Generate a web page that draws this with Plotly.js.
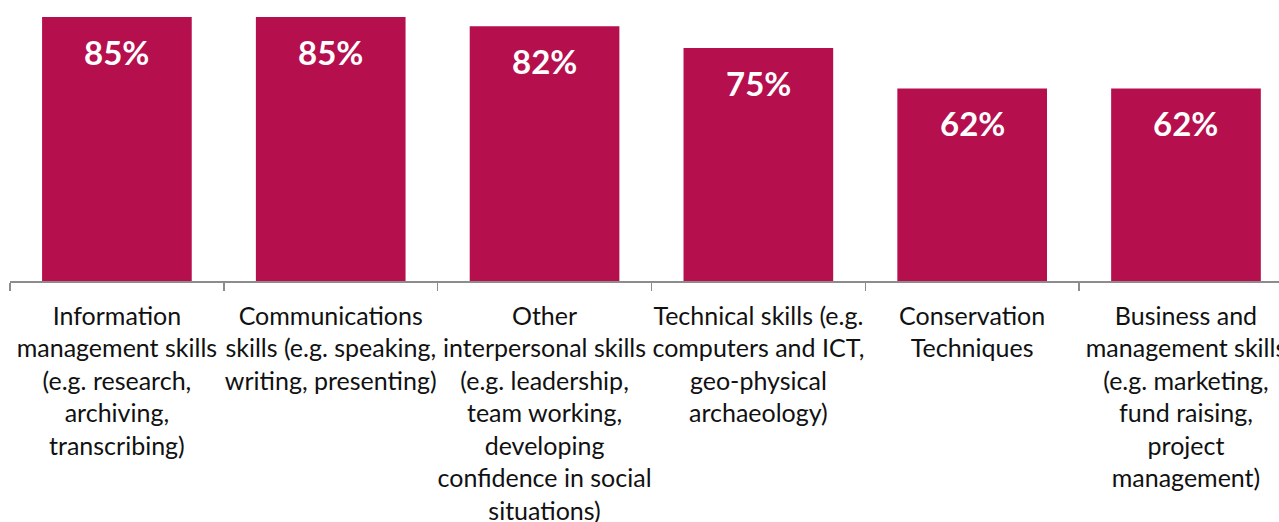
<!DOCTYPE html>
<html>
<head>
<meta charset="utf-8">
<script src="https://cdn.plot.ly/plotly-3.0.1.min.js"></script>
<style>html,body{margin:0;padding:0;background:#fff;}#chart{width:1279px;height:522px;}</style>
</head>
<body>
<div id="chart"></div>
<script>
const categories = [
  "Information<br>management skills<br>(e.g. research,<br>archiving,<br>transcribing)",
  "Communications<br>skills (e.g. speaking,<br>writing, presenting)",
  "Other<br>interpersonal skills<br>(e.g. leadership,<br>team working,<br>developing<br>confidence in social<br>situations)",
  "Technical skills (e.g.<br>computers and ICT,<br>geo-physical<br>archaeology)",
  "Conservation<br>Techniques",
  "Business and<br>management skills<br>(e.g. marketing,<br>fund raising,<br>project<br>management)"
];
const values = [85, 85, 82, 75, 62, 62];
const valueLabels = values.map(v => v + "%");

const barColor = "#B50F4D";
const axisColor = "#8C8C8C";
const fontFamily = "Lato, 'Open Sans', sans-serif";

const trace = {
  type: "bar",
  x: categories,
  y: values,
  marker: {color: barColor},
  hoverinfo: "none"
};

const annotations = categories.map((c, i) => ({
  x: c, y: values[i], xref: "x", yref: "y",
  text: "<b>" + valueLabels[i] + "</b>",
  showarrow: false, yanchor: "middle", yshift: -35,
  font: {family: fontFamily, size: 33, color: "#FFFFFF"}
}));

const layout = {
  width: 1279, height: 522,
  margin: {l: 10, r: 0, t: 0, b: 241, pad: 0},
  paper_bgcolor: "#FFFFFF", plot_bgcolor: "#FFFFFF",
  bargap: 0.3,
  showlegend: false,
  xaxis: {
    type: "category",
    range: [-0.5, 5.435],
    showline: true, linecolor: axisColor, linewidth: 1.5,
    ticks: "outside", tickson: "boundaries", ticklen: 8, tickcolor: axisColor, tickwidth: 1.5,
    showgrid: false, zeroline: false,
    tickangle: 0,
    ticklabeloverflow: "allow",
    ticklabelstandoff: 12,
    tickfont: {family: fontFamily, size: 25, color: "#111111"}
  },
  yaxis: {range: [0, 90.47], visible: false, showgrid: false, zeroline: false},
  annotations: annotations
};

Plotly.newPlot("chart", [trace], layout, {displayModeBar: false, staticPlot: true});
</script>
</body>
</html>
